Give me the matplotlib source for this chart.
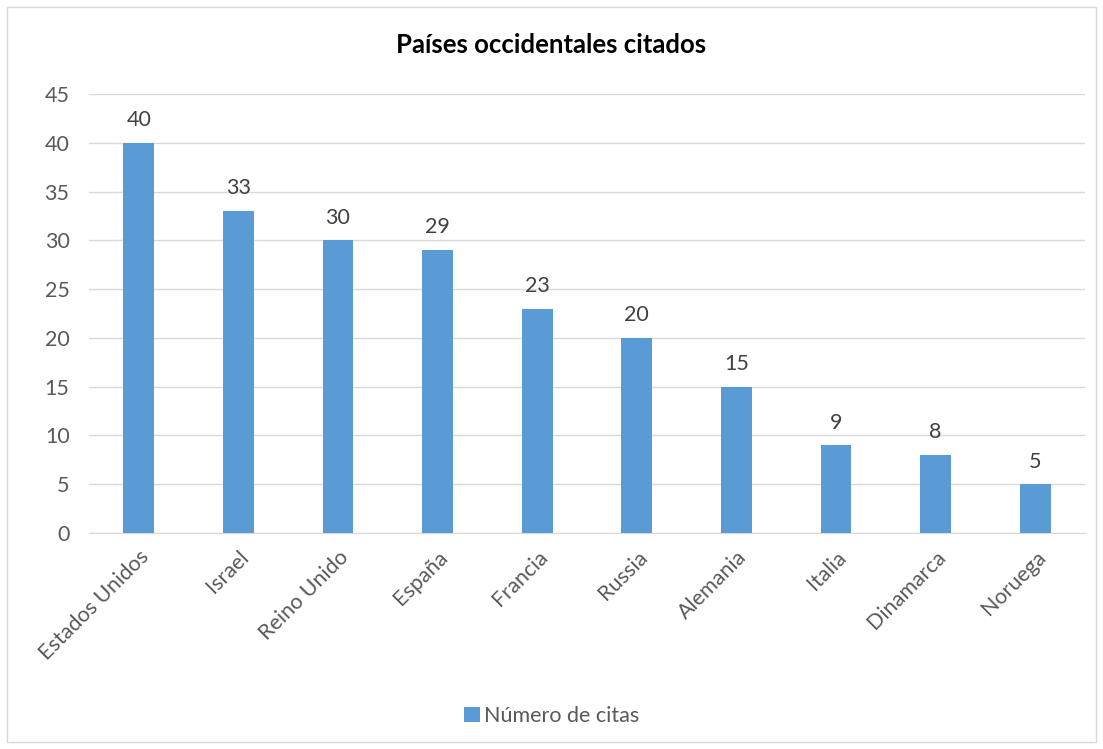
import matplotlib.pyplot as plt
from matplotlib.patches import Rectangle

# Data
paises = ['Estados Unidos', 'Israel', 'Reino Unido', 'España', 'Francia',
          'Russia', 'Alemania', 'Italia', 'Dinamarca', 'Noruega']
citas = [40, 33, 30, 29, 23, 20, 15, 9, 8, 5]
yticks = [0, 5, 10, 15, 20, 25, 30, 35, 40, 45]

plt.rcParams['font.family'] = ['Lato', 'DejaVu Sans']
gris = '#595959'
azul = '#5B9BD5'

fig = plt.figure(figsize=(11.03, 7.49), dpi=100)
ax = fig.add_axes([0.0807, 0.2884, 0.903, 0.5861])

x = list(range(len(paises)))
bars = ax.bar(x, citas, width=0.31, color=azul, label='Número de citas', zorder=3)
for xi, v in zip(x, citas):
    ax.text(xi, v + 1.3, str(v), ha='center', va='bottom', fontsize=15.5, color='#404040')

ax.set_xlim(-0.5, len(paises) - 0.5)
ax.set_ylim(0, 45)
ax.set_yticks(yticks)
ax.set_yticklabels([str(t) for t in yticks], fontsize=15.5, color=gris)
ax.set_xticks(x)
ax.set_xticklabels(paises, rotation=45, ha='right', rotation_mode='anchor',
                   fontsize=15.5, color=gris)
ax.tick_params(axis='y', length=0, pad=14)
ax.tick_params(axis='x', length=0, pad=10)
ax.grid(axis='y', color='#D9D9D9', linewidth=1, zorder=0)
for s in ['top', 'right', 'left']:
    ax.spines[s].set_visible(False)
ax.spines['bottom'].set_color('#D9D9D9')

fig.text(0.5, 0.94, 'Países occidentales citados', ha='center', va='center',
         fontsize=18.5, fontweight='bold', color='black')

leg = fig.legend(handles=[bars], loc='center', bbox_to_anchor=(0.5, 0.044),
                 frameon=False, fontsize=15.5, handlelength=0.75, handleheight=0.75,
                 handletextpad=0.2, labelcolor=gris)

# chart border
fig.patches.append(Rectangle((7 / 1103, 1 - 742 / 749), 1089 / 1103, 735 / 749,
                             transform=fig.transFigure, fill=False,
                             edgecolor='#D9D9D9', linewidth=1))

fig.savefig('out.png', dpi=100)
